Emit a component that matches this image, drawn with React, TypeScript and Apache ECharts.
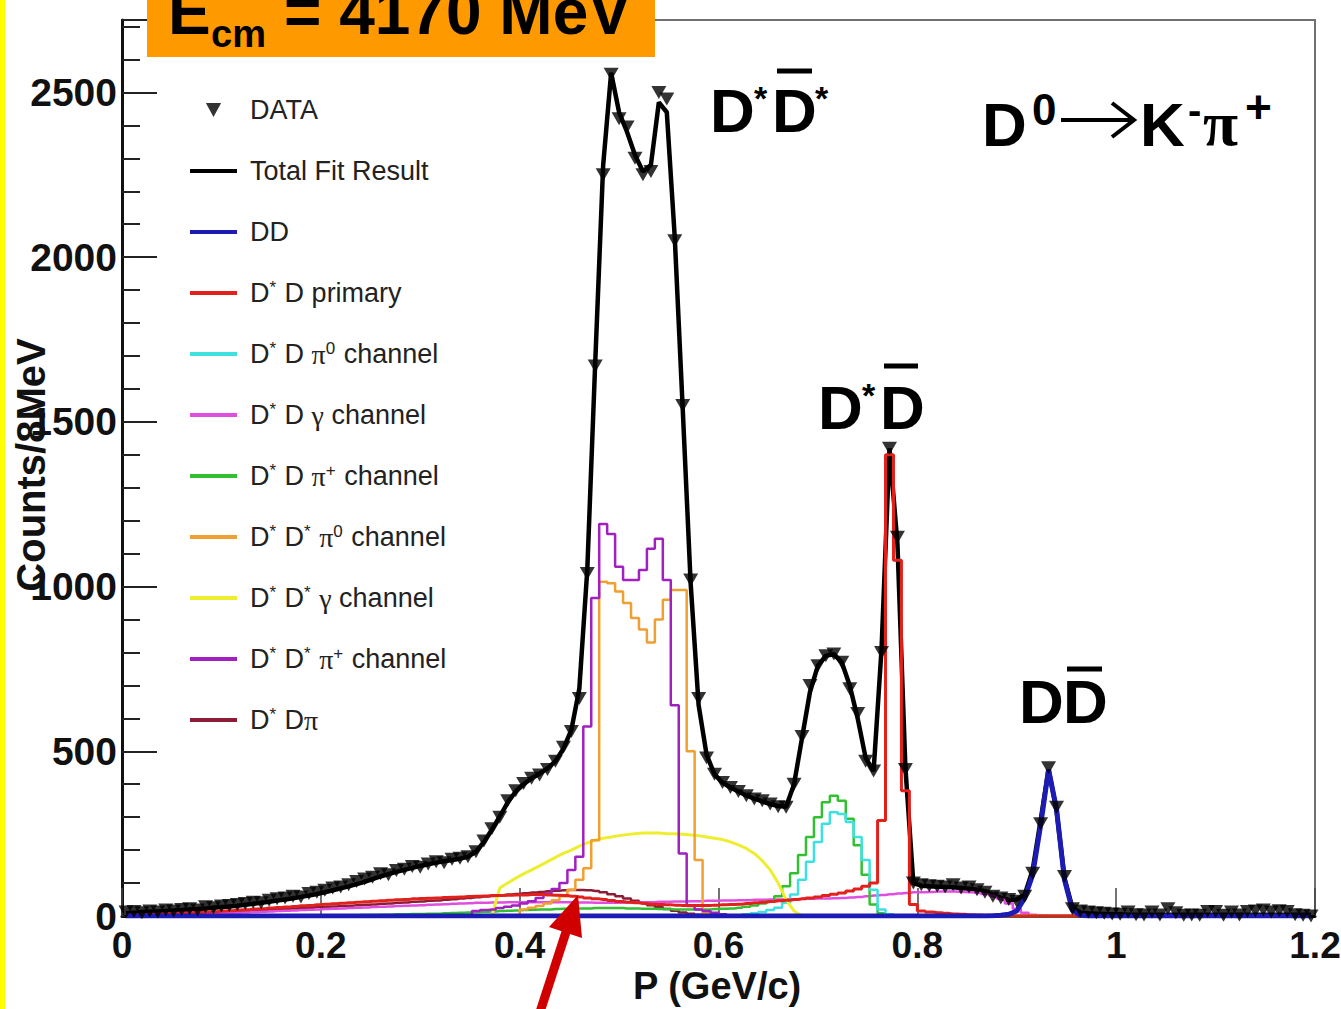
import React, { useEffect, useRef } from 'react';
import * as echarts from 'echarts';

// ---------- data (8 MeV bins, bin index i -> centre (i + 0.5) * 0.008 GeV/c) ----------
const BIN_WIDTH = 0.008;

const dataCounts = [
  12, 14, 10, 15, 12, 18, 15, 20, 22, 18,
  28, 25, 30, 32, 35, 38, 42, 40, 48, 52,
  55, 60, 58, 68, 72, 78, 85, 88, 95, 105,
  112, 118, 128, 125, 138, 142, 150, 148, 158, 165,
  162, 172, 175, 180, 195, 228, 265, 300, 350, 380,
  402, 418, 428, 445, 470, 512, 560, 660, 1040, 1670,
  2250, 2555, 2420, 2395, 2300, 2250, 2260, 2500, 2480, 2050,
  1550, 1020, 660, 480, 430, 405, 390, 378, 365, 355,
  350, 340, 332, 330, 400, 545, 700, 760, 790, 795,
  770, 690, 615, 470, 440, 800, 1420, 1150, 445, 100,
  95, 92, 90, 88, 95, 85, 88, 80, 72, 60,
  55, 50, 45, 60, 130, 280, 450, 330, 120, 22,
  15, 12, 10, 8, 6, 5, 12, 4, 3, 12,
  3, 22, 10, 2, 3, 2, 14, 14, 2, 12,
  3, 14, 15, 18, 12, 16, 14, 4, 2, 0,
];

const totalFit = [
  8, 10, 12, 13, 14, 15, 17, 18, 20, 21,
  23, 25, 27, 29, 31, 34, 37, 40, 43, 47,
  50, 54, 58, 62, 67, 72, 78, 84, 90, 97,
  104, 112, 120, 127, 134, 140, 146, 152, 157, 162,
  166, 170, 174, 180, 195, 225, 262, 302, 345, 378,
  400, 418, 432, 448, 470, 508, 565, 690, 1050, 1680,
  2280, 2560, 2440, 2380, 2310, 2260, 2280, 2470, 2440, 2060,
  1540, 1010, 640, 490, 430, 405, 390, 378, 366, 356,
  348, 340, 334, 332, 400, 540, 680, 760, 790, 795,
  770, 700, 600, 480, 440, 810, 1420, 1130, 450, 100,
  92, 90, 89, 88, 87, 85, 83, 80, 75, 65,
  55, 48, 50, 65, 140, 290, 445, 320, 115, 25,
  10, 8, 7, 6, 5, 5, 4, 4, 4, 4,
  4, 4, 4, 4, 4, 4, 4, 4, 4, 4,
  4, 4, 4, 4, 4, 4, 4, 4, 4, 4,
];

// components: first bin index + values from that bin on (zero elsewhere)
const ddStart = 108;
const ddVals = [0, 1, 2, 5, 15, 55, 125, 275, 445, 325, 110, 18, 2, 0];

const primaryStart = 0;
const primaryVals = [
  2, 3, 4, 5, 6, 7, 8, 9, 10, 11,
  12, 13, 15, 16, 18, 19, 21, 22, 24, 26,
  27, 29, 31, 32, 34, 36, 37, 39, 40, 42,
  43, 45, 46, 48, 49, 50, 52, 53, 54, 55,
  56, 57, 58, 59, 60, 61, 62, 62, 63, 64,
  64, 65, 65, 64, 63, 62, 60, 58, 55, 52,
  50, 47, 44, 42, 40, 38, 36, 35, 34, 33,
  32, 32, 32, 32, 33, 34, 35, 36, 38, 40,
  42, 44, 46, 48, 50, 52, 55, 58, 62, 66,
  70, 76, 82, 90, 100, 290, 1400, 1080, 380, 35,
  15, 12, 10, 8, 6, 5, 4, 3, 2, 1,
];

const dPi0Start = 78;
const dPi0Vals = [5, 8, 12, 18, 25, 40, 65, 110, 165, 225, 280, 315, 310, 285, 240, 170, 80, 20, 5, 0];

const dGammaStart = 0;
const dGammaVals = [
  1, 1, 2, 2, 3, 3, 4, 4, 5, 5,
  6, 7, 8, 9, 10, 11, 12, 13, 14, 15,
  16, 17, 18, 19, 20, 21, 22, 23, 24, 25,
  26, 27, 28, 29, 30, 31, 32, 33, 34, 35,
  36, 37, 38, 39, 40, 40, 41, 41, 42, 42,
  42, 42, 42, 42, 42, 42, 42, 41, 41, 40,
  40, 40, 40, 41, 41, 42, 42, 43, 43, 44,
  44, 45, 45, 46, 46, 47, 47, 48, 48, 49,
  49, 50, 50, 51, 51, 52, 52, 53, 53, 54,
  55, 56, 58, 60, 62, 64, 66, 68, 70, 72,
  72, 73, 74, 74, 74, 73, 72, 70, 67, 62,
  52, 38, 22, 10, 4, 1, 0, 0, 0, 0,
];

const dPiPlusStart = 30;
const dPiPlusVals = [
  3, 3, 4, 4, 5, 5, 6, 6, 7, 7,
  8, 9, 10, 11, 12, 13, 14, 15, 16, 17,
  18, 19, 20, 20, 21, 22, 22, 23, 23, 24,
  24, 24, 24, 23, 23, 22, 22, 21, 21, 20,
  20, 20, 20, 20, 21, 22, 23, 25, 28, 32,
  38, 45, 60, 90, 130, 185, 240, 300, 345, 365,
  350, 295, 215, 125, 35, 8, 3,
];

const dsPi0Start = 50;
const dsPi0Vals = [20, 25, 30, 38, 48, 60, 80, 110, 145, 230, 1015, 1010, 985, 950, 905, 870, 830, 900, 960, 990, 990, 500, 170, 10, 0];

const dsGammaStart = 46;
const dsGammaVals = [
  0, 85, 100, 115, 128, 140, 152, 165, 178, 190,
  200, 212, 222, 230, 236, 240, 244, 247, 250, 252,
  252, 252, 250, 250, 248, 246, 244, 240, 236, 232,
  225, 216, 205, 190, 168, 140, 100, 50, 15, 0,
];

const dsPiPlusStart = 44;
const dsPiPlusVals = [
  15, 18, 20, 24, 28, 32, 38, 45, 55, 68,
  82, 100, 140, 180, 575, 965, 1190, 1160, 1060, 1020,
  1020, 1050, 1115, 1145, 1020, 640, 190, 30, 20, 15,
  10, 5, 0,
];

const dPiStart = 0;
const dPiVals = [
  1, 2, 3, 4, 5, 6, 7, 8, 9, 10,
  11, 12, 13, 14, 15, 16, 17, 18, 20, 21,
  22, 23, 24, 25, 27, 28, 29, 30, 31, 33,
  34, 35, 37, 38, 40, 41, 43, 44, 46, 47,
  49, 51, 53, 55, 57, 59, 61, 63, 65, 67,
  69, 71, 73, 75, 77, 78, 79, 79, 78, 76,
  72, 66, 60, 53, 46, 40, 33, 27, 21, 16,
  11, 7, 4, 2, 1, 0,
];

const xTicks = [0, 0.2, 0.4, 0.6, 0.8, 1, 1.2];
const yTicks = [0, 500, 1000, 1500, 2000, 2500];

const N_BINS = 150;
const centre = (i: number) => Math.round((i + 0.5) * BIN_WIDTH * 10000) / 10000;
const full = (vals: number[]) => vals.map((v, i) => [centre(i), v]);
const padded = (start: number, vals: number[]) => {
  const out: number[][] = [];
  for (let i = 0; i < N_BINS; i++) {
    const k = i - start;
    out.push([centre(i), k >= 0 && k < vals.length ? vals[k] : 0]);
  }
  return out;
};

const COLORS = {
  dd: '#1c1cb4',
  primary: '#e2201c',
  dPi0: '#3fe0e0',
  dGamma: '#e04ee0',
  dPiPlus: '#32c032',
  dsPi0: '#f0a030',
  dsGamma: '#eeee30',
  dsPiPlus: '#a020c0',
  dPi: '#8c1d36',
};

const legendLabels: Record<string, string> = {
  'DATA': '{g| }DATA',
  'Total Fit Result': '{g| }Total Fit Result',
  'DD': '{g| }DD',
  'D*D primary': '{g| }D{s|*} D primary',
  'D*Dπ0 channel': '{g| }D{s|*} D {p|π}{s|0} channel',
  'D*Dγ channel': '{g| }D{s|*} D {p|γ} channel',
  'D*Dπ+ channel': '{g| }D{s|*} D {p|π}{s|+} channel',
  'D*D*π0 channel': '{g| }D{s|*} D{s|*} {p|π}{s|0} channel',
  'D*D*γ channel': '{g| }D{s|*} D{s|*} {p|γ} channel',
  'D*D*π+ channel': '{g| }D{s|*} D{s|*} {p|π}{s|+} channel',
  'D*Dπ': '{g| }D{s|*} D{p|π}',
};

const FONT = 'Liberation Sans, Arial, Helvetica, sans-serif';
const SERIF = 'Liberation Serif, Times New Roman, serif';
const LINE_ICON = 'path://M0,0H47V4H0Z';

const txt = (text: string, x: number, baseline: number, fs: number, extra: any = {}) => ({
  type: 'text',
  x,
  y: baseline - 0.35 * fs,
  z: 100,
  style: {
    text,
    fontSize: fs,
    fontWeight: 'bold',
    fontFamily: FONT,
    fill: '#000',
    align: 'left',
    textAlign: 'left',
    verticalAlign: 'middle',
    textVerticalAlign: 'middle',
    ...extra,
  },
});

const bar = (x1: number, x2: number, y: number, w = 5) => ({
  type: 'line',
  z: 100,
  shape: { x1, y1: y, x2, y2: y },
  style: { stroke: '#000', lineWidth: w },
});

function buildOption(): any {
  const stepLine = (name: string, color: string, data: number[][], width = 2.5) => ({
    name,
    type: 'line',
    step: 'middle',
    data,
    symbol: 'none',
    lineStyle: { color, width },
    itemStyle: { color },
    z: 3,
    silent: true,
  });

  const lineNames = [
    'Total Fit Result',
    'DD',
    'D*D primary',
    'D*Dπ0 channel',
    'D*Dγ channel',
    'D*Dπ+ channel',
    'D*D*π0 channel',
    'D*D*γ channel',
    'D*D*π+ channel',
    'D*Dπ',
  ];

  return {
    animation: false,
    backgroundColor: '#ffffff',
    grid: { left: 122, right: 26, top: 20, bottom: 93, containLabel: false, outerBoundsMode: 'none', show: true, borderColor: '#707070', borderWidth: 2 },
    xAxis: {
      type: 'value',
      min: 0,
      max: 1.2,
      interval: 0.2,
      axisLine: { show: true, lineStyle: { color: '#111', width: 3 } },
      axisTick: { show: true, inside: true, length: 28, lineStyle: { color: '#444', width: 1.5 } },
      splitLine: { show: false },
      axisLabel: {
        margin: 11,
        fontSize: 37,
        fontWeight: 'bold',
        fontFamily: FONT,
        color: '#111',
        formatter: (v: number) => (xTicks.includes(Math.round(v * 10) / 10) ? String(Math.round(v * 10) / 10) : ''),
      },
    },
    yAxis: [
      {
        type: 'value',
        min: 0,
        max: 2720,
        interval: 500,
        axisLine: { show: true, lineStyle: { color: '#111', width: 3 } },
        axisTick: { show: true, inside: true, length: 35, lineStyle: { color: '#222', width: 2 } },
        splitLine: { show: false },
        axisLabel: {
          margin: 5,
          fontSize: 39,
          fontWeight: 'bold',
          fontFamily: FONT,
          color: '#111',
          formatter: (v: number) => (yTicks.includes(v) ? String(v) : ''),
        },
      },
      {
        type: 'value',
        min: 0,
        max: 2720,
        interval: 100,
        position: 'left',
        axisLine: { show: false },
        axisTick: { show: true, inside: true, length: 18, lineStyle: { color: '#222', width: 2 } },
        axisLabel: { show: false },
        splitLine: { show: false },
      },
    ],
    legend: {
      orient: 'vertical',
      left: 190,
      top: 94,
      padding: 0,
      itemWidth: 47,
      itemHeight: 14,
      itemGap: 29,
      selectedMode: false,
      data: [
        { name: 'DATA', icon: 'path://M0,0L12,0L6,11Z' },
        ...lineNames.map((n) => ({ name: n, icon: LINE_ICON })),
      ],
      formatter: (name: string) => legendLabels[name] || name,
      textStyle: {
        fontFamily: FONT,
        fontSize: 27,
        color: '#222',
        lineHeight: 32,
        rich: {
          g: { width: 8 },
          s: { fontSize: 17, fontFamily: FONT, color: '#222', padding: [0, 1, 12, 0] },
          p: { fontSize: 28, fontFamily: SERIF, color: '#222' },
        },
      },
    },
    graphic: [
      { type: 'rect', z: 100, shape: { x: 0, y: 0, width: 5, height: 1009 }, style: { fill: '#ffff00' } },
      { type: 'rect', z: 100, shape: { x: 147, y: 0, width: 508, height: 57 }, style: { fill: '#ff9900' } },
      txt('E', 168, 34, 64),
      txt('cm', 211, 47, 38),
      txt('= 4170 MeV', 284, 34, 64),
      // D* D-bar*
      txt('D', 710, 132, 62),
      txt('*', 754, 110, 34),
      txt('D', 772, 132, 62),
      bar(777, 812, 71),
      txt('*', 815, 110, 34),
      // D0 -> K- pi+
      txt('D', 982, 146, 62),
      txt('0', 1032, 125, 44),
      { type: 'line', z: 100, shape: { x1: 1061, y1: 120, x2: 1132, y2: 120 }, style: { stroke: '#000', lineWidth: 4 } },
      { type: 'polyline', z: 100, shape: { points: [[1112, 103], [1134, 120], [1112, 137]] }, style: { stroke: '#000', lineWidth: 4, fill: null } },
      txt('K', 1140, 146, 62),
      txt('-', 1188, 124, 40),
      txt('π', 1203, 146, 64, { fontFamily: SERIF, fontWeight: 'bold' }),
      txt('+', 1245, 123, 46),
      // D* D-bar
      txt('D', 818, 429, 62),
      txt('*', 862, 407, 34),
      txt('D', 880, 429, 62),
      bar(884, 918, 366),
      // D D-bar
      txt('D', 1019, 723, 62),
      txt('D', 1063, 723, 62),
      bar(1067, 1102, 669),
      // axis titles
      {
        type: 'text', z: 100, x: 31, y: 465, rotation: Math.PI / 2,
        style: { text: 'Counts/8MeV', fontSize: 40, fontWeight: 'bold', fontFamily: FONT, fill: '#111', align: 'center', textAlign: 'center', verticalAlign: 'middle', textVerticalAlign: 'middle' },
      },
      txt('P (GeV/c)', 633, 999, 38, { fill: '#111' }),
      // red arrow
      { type: 'line', z: 100, shape: { x1: 540, y1: 1012, x2: 566, y2: 932 }, style: { stroke: '#d10000', lineWidth: 9 } },
      { type: 'polygon', z: 100, shape: { points: [[578, 895], [549, 927], [582, 938]] }, style: { fill: '#d10000' } },
    ],
    series: [
      {
        name: 'Total Fit Result',
        type: 'line',
        data: full(totalFit),
        symbol: 'none',
        lineStyle: { color: '#000', width: 4.5 },
        itemStyle: { color: '#000' },
        z: 2,
        silent: true,
      },
      stepLine('D*Dπ', COLORS.dPi, padded(dPiStart, dPiVals)),
      stepLine('D*Dγ channel', COLORS.dGamma, padded(dGammaStart, dGammaVals)),
      stepLine('D*Dπ+ channel', COLORS.dPiPlus, padded(dPiPlusStart, dPiPlusVals)),
      stepLine('D*Dπ0 channel', COLORS.dPi0, padded(dPi0Start, dPi0Vals)),
      {
        name: 'D*D*γ channel',
        type: 'line',
        data: padded(dsGammaStart, dsGammaVals),
        symbol: 'none',
        lineStyle: { color: COLORS.dsGamma, width: 3 },
        itemStyle: { color: COLORS.dsGamma },
        z: 3,
        silent: true,
      },
      stepLine('D*D*π0 channel', COLORS.dsPi0, padded(dsPi0Start, dsPi0Vals)),
      stepLine('D*D*π+ channel', COLORS.dsPiPlus, padded(dsPiPlusStart, dsPiPlusVals)),
      stepLine('D*D primary', COLORS.primary, padded(primaryStart, primaryVals), 3),
      {
        name: 'DD',
        type: 'line',
        data: padded(ddStart, ddVals),
        symbol: 'none',
        lineStyle: { color: COLORS.dd, width: 5 },
        itemStyle: { color: COLORS.dd },
        z: 4,
        silent: true,
      },
      {
        name: 'DATA',
        type: 'scatter',
        data: full(dataCounts),
        symbol: 'triangle',
        symbolRotate: 180,
        symbolSize: [15, 13],
        itemStyle: { color: '#000' },
        z: 6,
        silent: true,
      },
    ],
  };
}

export default function App() {
  const ref = useRef<HTMLDivElement>(null);
  useEffect(() => {
    if (!ref.current) return;
    const chart = echarts.init(ref.current, undefined, { renderer: 'svg' });
    chart.setOption(buildOption());
    return () => chart.dispose();
  }, []);
  return (
    <div
      ref={ref}
      style={{ position: 'fixed', left: 0, top: 0, width: 1341, height: 1009, background: '#fff' }}
    />
  );
}
